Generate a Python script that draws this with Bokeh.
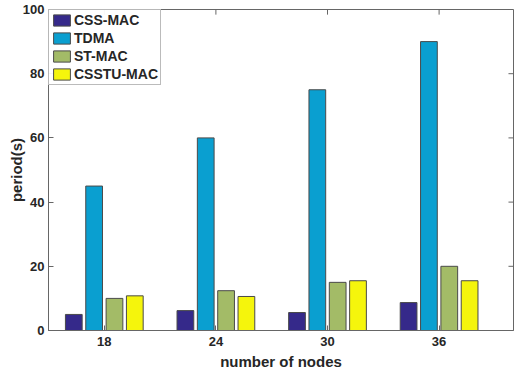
from bokeh.plotting import figure
from bokeh.models import ColumnDataSource, Range1d, FixedTicker, Legend, LegendItem
from bokeh.embed import file_html
from bokeh.resources import INLINE

nodes = [18, 24, 30, 36]
series = ["CSS-MAC", "TDMA", "ST-MAC", "CSSTU-MAC"]
css_mac = [5.0, 6.2, 5.6, 8.7]
tdma = [45, 60, 75, 90]
st_mac = [10.0, 12.4, 15.0, 20.0]
csstu_mac = [10.8, 10.6, 15.5, 15.5]
y_ticks = [0, 20, 40, 60, 80, 100]

colors = ["#35298a", "#0a9fd0", "#a3bb67", "#f5f50c"]
offsets = [-1.64, -0.547, 0.547, 1.64]
bar_w = 0.9

FONT = "Liberation Sans"
TXT = "#262626"
AX = "#666666"

X0, X1, Y0, Y1 = 15, 40, 0, 100

p = figure(width=516, height=374, output_backend="svg", toolbar_location=None,
           x_range=Range1d(X0, X1), y_range=Range1d(Y0, Y1),
           min_border_left=48, min_border_right=3, min_border_top=9, min_border_bottom=44)
p.outline_line_color = AX
p.outline_line_width = 1
p.grid.visible = False
p.background_fill_color = "white"

vals = [css_mac, tdma, st_mac, csstu_mac]
items = []
for name, v, c, off in zip(series, vals, colors, offsets):
    src = ColumnDataSource(dict(x=[n + off for n in nodes], top=v))
    r = p.vbar(x="x", top="top", width=bar_w, source=src, fill_color=c,
               line_color="#4a4a4a", line_width=1)
    items.append(LegendItem(label=name, renderers=[r]))

# mirrored ticks on top and right edges (box style)
tick_len_y = 1.6   # data units (~5 px)
tick_len_x = 0.27
p.segment(x0=nodes, x1=nodes, y0=[Y1] * len(nodes), y1=[Y1 - tick_len_y] * len(nodes),
          line_color=AX, line_width=1)
p.segment(x0=[X1] * len(y_ticks), x1=[X1 - tick_len_x] * len(y_ticks), y0=y_ticks, y1=y_ticks,
          line_color=AX, line_width=1)

for ax in (p.xaxis[0], p.yaxis[0]):
    ax.axis_line_color = AX
    ax.major_tick_line_color = AX
    ax.minor_tick_line_color = None
    ax.major_tick_in = 5
    ax.major_tick_out = 0
    ax.major_label_text_font = FONT
    ax.major_label_text_font_style = "bold"
    ax.major_label_text_font_size = "13px"
    ax.major_label_text_color = TXT
    ax.axis_label_text_font = FONT
    ax.axis_label_text_font_style = "bold"
    ax.axis_label_text_font_size = "15px"
    ax.axis_label_text_color = TXT

p.xaxis.ticker = FixedTicker(ticks=nodes)
p.xaxis.axis_label = "number of nodes"
p.xaxis.major_label_standoff = 6
p.xaxis.axis_label_standoff = 4
p.yaxis.ticker = FixedTicker(ticks=y_ticks)
p.yaxis.axis_label = "period(s)"
p.yaxis.major_label_standoff = 4
p.yaxis.axis_label_standoff = -5

legend = Legend(items=items, location="top_left")
legend.label_text_font = FONT
legend.label_text_font_style = "bold"
legend.label_text_font_size = "14px"
legend.label_text_color = TXT
legend.border_line_color = "#777777"
legend.border_line_width = 1
legend.margin = 0
legend.padding = 2
legend.spacing = 2
legend.glyph_width = 21
legend.glyph_height = 14
legend.label_standoff = 2
legend.label_height = 16
p.add_layout(legend)

open("out.html", "w").write(file_html(p, INLINE))
